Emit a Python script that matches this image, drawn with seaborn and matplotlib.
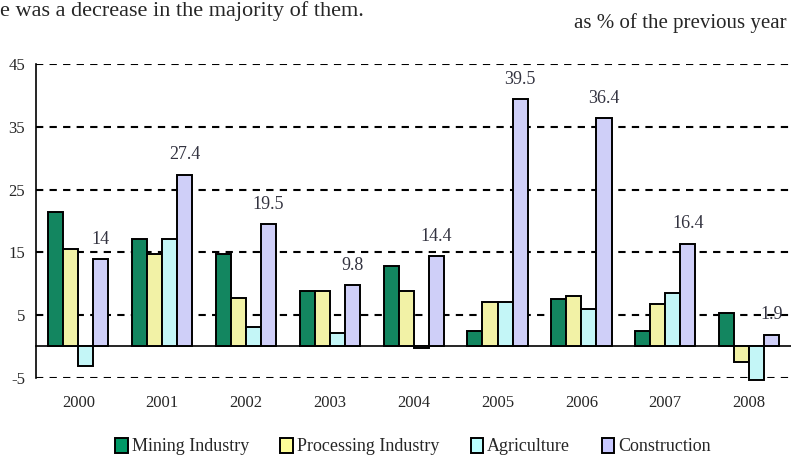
import matplotlib
matplotlib.use("Agg")
import matplotlib.pyplot as plt
import numpy as np
import pandas as pd
import seaborn as sns
from matplotlib.patches import Patch

years = ["2000", "2001", "2002", "2003", "2004", "2005", "2006", "2007", "2008"]
series_names = ["Mining Industry", "Processing Industry", "Agriculture", "Construction"]
mining = [21.5, 17.1, 14.8, 8.9, 12.8, 2.5, 7.5, 2.5, 5.4]
processing = [15.6, 14.8, 7.7, 8.9, 8.9, 7.1, 8.0, 6.8, -2.5]
agriculture = [-3.1, 17.1, 3.1, 2.2, -0.3, 7.1, 5.9, 8.5, -5.4]
construction = [14.0, 27.4, 19.5, 9.8, 14.4, 39.5, 36.4, 16.4, 1.9]
construction_labels = ["14", "27.4", "19.5", "9.8", "14.4", "39.5", "36.4", "16.4", "1.9"]
colors = ["#009966", "#FFFF99", "#BBFFFF", "#C8C8FF"]

sns.set_style("white")
plt.rcParams["font.family"] = ["Liberation Serif", "DejaVu Serif"]
plt.rcParams["axes.unicode_minus"] = False

frame = pd.DataFrame({
    "year": years * 4,
    "series": np.repeat(series_names, len(years)),
    "value": mining + processing + agriculture + construction,
})

fig = plt.figure(figsize=(7.91, 4.58), dpi=100)
ax = fig.add_axes([0.046, 0.175, 0.954, 0.685])

sns.barplot(
    data=frame, x="year", y="value", hue="series", order=years, hue_order=series_names,
    palette=colors, width=0.72, edgecolor="black", linewidth=1.4, errorbar=None,
    legend=False, ax=ax, zorder=3,
)
for bar in ax.patches:
    bar.set_clip_on(False)

ax.set_xlim(-0.5, 8.5)
ax.set_ylim(-5, 45)
ax.set_yticks([-5, 5, 15, 25, 35, 45])
ax.yaxis.grid(True, color="black", linestyle=(0, (3.5, 3.0)), linewidth=1.5)
ax.set_axisbelow(True)
ax.tick_params(axis="y", length=5, width=1.3, labelsize=12, pad=3, color="black")

for side in ["top", "right"]:
    ax.spines[side].set_visible(False)
ax.spines["left"].set_color("black")
ax.spines["left"].set_linewidth(1.2)
ax.spines["bottom"].set_position(("data", 0))
ax.spines["bottom"].set_color("black")
ax.spines["bottom"].set_linewidth(1.2)

# boundaries between year groups get the small ticks on the zero line
ax.set_xticks(np.arange(0.5, len(years) - 0.5, 1.0))
ax.set_xticklabels([])
ax.tick_params(axis="x", which="major", length=5, width=1.2, direction="out", color="black")
ax.set_xticks(np.arange(len(years)), minor=True)
ax.set_xticklabels(years, minor=True)
ax.tick_params(axis="x", which="minor", length=0, pad=35, labelsize=12)
ax.set_xlabel("")
ax.set_ylabel("")

# labels above the construction bars
offset = 0.72 / 4 * 1.5
for i, (val, text) in enumerate(zip(construction, construction_labels)):
    ax.annotate(text, (i + offset, val), xytext=(0, 8), textcoords="offset points",
                ha="center", va="bottom", fontsize=13, color="#333340")

fig.text(0.995, 0.95, "as % of the previous year", ha="right", va="center", fontsize=15)
fig.text(0.0, 0.998, "e was a decrease in the majority of them.", ha="left", va="top", fontsize=16)

handles = [Patch(facecolor=c, edgecolor="black", linewidth=1.4) for c in colors]
fig.legend(handles, series_names, loc="center", bbox_to_anchor=(0.522, 0.025), ncol=4,
           frameon=False, fontsize=13, handlelength=0.7, handleheight=0.9, handletextpad=0.2,
           columnspacing=1.75)

fig.savefig("out.png", dpi=100)
